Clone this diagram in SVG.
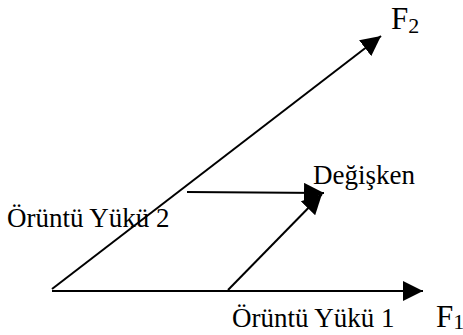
<svg xmlns="http://www.w3.org/2000/svg" width="463" height="335" viewBox="0 0 463 335">
<style>
.t{font-family:"Liberation Serif","Times New Roman",serif;fill:#000}
.l{stroke:#000;stroke-width:2;fill:none}
</style>
<defs>
<marker id="ah" markerUnits="userSpaceOnUse" markerWidth="20" markerHeight="20" refX="20" refY="10" orient="auto">
<path d="M0,0 L20,10 L0,20 z" fill="#000"/>
</marker>
</defs>
<rect width="463" height="335" fill="#fff"/>
<g id="connectors">
<line class="l" x1="52" y1="291" x2="423" y2="291" marker-end="url(#ah)"/>
<line class="l" x1="52" y1="289" x2="381" y2="36" marker-end="url(#ah)"/>
<line class="l" x1="187" y1="192" x2="324" y2="193" marker-end="url(#ah)"/>
<line class="l" x1="228" y1="290" x2="322" y2="194" marker-end="url(#ah)"/>
</g>
<g id="F2"><text class="t" x="391" y="29" font-size="31">F<tspan font-size="22" dy="4">2</tspan></text></g>
<g id="F1"><text class="t" x="436" y="327" font-size="31">F<tspan font-size="22" dy="2">1</tspan></text></g>
<g id="degisken"><text class="t" x="313" y="184" font-size="27">Değişken</text></g>
<g id="yuk2"><text class="t" x="7" y="227" font-size="27">Örüntü Yükü 2</text></g>
<g id="yuk1"><text class="t" x="232" y="327" font-size="27">Örüntü Yükü 1</text></g>
</svg>
